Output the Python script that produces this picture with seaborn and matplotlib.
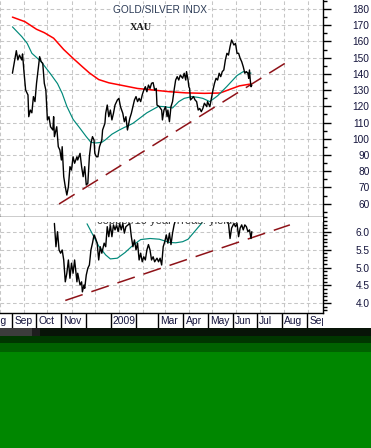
import pandas as pd
import matplotlib
matplotlib.use("Agg")
import matplotlib.pyplot as plt
import matplotlib.transforms as mtransforms
from matplotlib.patches import Rectangle
from matplotlib.ticker import MultipleLocator, FormatStrFormatter
import seaborn as sns

# all x values are days counted from this date
start = pd.Timestamp("2008-08-17")

# XAU close (upper panel)
xau_day = [0, 5, 7, 9, 12, 13, 15, 17, 20, 21, 23, 25, 27, 29, 31, 33, 35, 37, 39, 41,
           43, 45, 47, 49, 52, 53, 54, 57, 59, 61, 63, 64, 66, 68, 70, 72, 74, 76, 78, 80,
           83, 84, 87, 89, 91, 93, 95, 97, 99, 101, 103, 105, 106, 108, 110, 112, 115, 116, 119, 120,
           122, 124, 126, 128, 130, 132, 135, 137, 139, 142, 144, 146, 148, 151,
           153, 157, 159, 161, 163, 165, 167, 169, 171, 173, 175, 177, 179, 181, 183, 185, 186, 189, 192, 193,
           195, 197, 199, 200, 202, 204, 206, 208, 210, 212, 214, 216, 219, 221, 223, 224, 226, 227, 228, 229,
           231, 233, 235, 237, 239, 241, 243, 245, 247, 250, 251, 254, 256, 258, 260, 262, 264, 266, 268, 270,
           272, 274, 276, 278, 280, 282, 285, 287, 289, 291, 293, 295, 297, 299, 301, 303, 304, 305, 306, 307,
           308]
xau = [140.4, 154.3, 148.6, 151.6, 148.6, 152.3, 140.4, 130, 127, 113.6, 117.7, 116, 126, 122.9, 134.2, 142.4, 150.6, 147.5, 146.5, 134.2,
       130, 111.6, 113.6, 107.4, 105.4, 113.6, 101.3, 107.4, 95.1, 93.1, 86.9, 95.1, 76.6, 70.4, 65.3, 70.4, 82.8, 80.7, 88.9, 84.9,
       88.9, 86.9, 91, 82.8, 76.6, 82.8, 71.5, 72.5, 88.9, 97.2, 101.3, 99.2, 91, 88.9, 88.9, 95.1, 99.2, 105.4, 109.5, 115.7,
       120.8, 113.6, 117.7, 111.6, 115.7, 120.8, 123.9, 124.9, 119.8, 115.7, 110.5, 113.6, 105.4, 112.6,
       115.7, 123.9, 126, 122.9, 124.9, 122.9, 127, 130, 132.1, 129, 133.1, 131, 134.2, 134.6, 130, 131, 120.8, 119.8, 117.7, 111.6,
       117.7, 119.8, 113.6, 117.7, 110.5, 119.8, 122.9, 130, 136.2, 138.3, 136.2, 139.3, 137.3, 140.4, 136.2, 141.4, 136.2, 132.1, 131, 123.9,
       124.9, 126, 123.9, 122.9, 117.7, 118.7, 116.7, 118.7, 121.9, 119.8, 122.9, 119.8, 124.9, 130, 134.2, 137.3, 136.2, 140.4, 138.3, 141.4,
       142.4, 148.6, 152.7, 151.6, 156.8, 160.9, 157.8, 158.8, 152.7, 152.7, 149.6, 147.5, 144.4, 140.4, 141.4, 140.4, 137.3, 142.4, 136.2, 132.1,
       133]

# short moving average (teal) and long moving average (red)
ma_short_day = [0, 12, 19, 25, 37, 49, 58, 64, 70, 78, 87, 95, 101, 107, 115, 120, 128, 136, 144, 148,
                155, 173, 188, 195, 206, 214, 221, 231, 239, 245, 254, 264, 276, 289, 297, 305, 307]
ma_short = [169, 163, 158.8, 152.7, 147.5, 140, 134, 128, 120, 112, 106.4, 101.3, 97.8, 97.4, 97.8, 99.5, 102.8, 105, 107, 107.8,
            109.5, 116, 120, 119.8, 119, 122.9, 124.9, 126, 125.5, 124.9, 122.9, 126.5, 132.3, 139, 141.4, 140.4, 140.5]
ma_long_day = [0, 16, 31, 41, 53, 66, 78, 90, 99, 111, 124, 140, 161, 182, 202, 223, 247, 267, 280, 292, 307]
ma_long = [175, 172.2, 167.5, 165.4, 162, 155, 149.6, 144.4, 140.6, 136.5, 134.5, 133, 131, 130, 129, 128.3, 128, 128.2, 130.5, 132.6, 133.8]

trend_day = [60, 357]
trend = [59.8, 148.4]

# copper / 10 year treasury yields (lower panel), two visible stretches
ratio_day_a = [54, 56, 58, 60, 62, 64, 66, 68, 70, 72, 74, 76, 78, 80, 83, 84, 87, 89, 90, 92,
               93, 95, 97, 99, 101, 103, 105, 107, 109, 111, 113, 115, 118, 120, 122, 124, 126, 128, 130, 132,
               134, 136, 138, 140, 142, 144, 146, 151, 153, 155, 157, 159, 161, 163, 165, 167, 169, 171, 173, 175,
               177, 179, 181, 183, 186, 188, 190, 192, 194, 196, 198, 200, 202, 204, 206, 208, 210]
ratio_a = [6.23, 5.58, 6.0, 5.49, 5.4, 5.49, 5.21, 4.6, 4.84, 5.21, 4.7, 5.12, 4.84, 5.21, 4.6, 4.84, 4.51, 4.6, 4.32, 4.51,
           4.42, 4.79, 4.98, 5.07, 5.49, 5.68, 5.91, 5.81, 5.68, 5.21, 5.58, 5.4, 5.68, 5.58, 6.14, 5.86, 6.19, 5.86, 6.19, 6.05,
           6.19, 6.0, 6.23, 6.05, 6.23, 5.96, 6.14, 6.23, 5.86, 5.58, 5.77, 5.49, 5.68, 5.21, 5.4, 5.16, 5.3, 5.21, 5.49, 5.64,
           5.49, 5.21, 5.3, 5.16, 5.26, 5.16, 5.26, 5.07, 5.58, 5.72, 5.91, 5.68, 5.96, 5.64, 5.96, 6.19, 6.33]
ratio_day_b = [276, 278, 280, 282, 285, 287, 289, 291, 293, 295, 297, 299, 301, 303, 305, 307, 308]
ratio_b = [6.3, 6.23, 5.81, 6.1, 6.23, 6.14, 6.23, 5.86, 6.1, 6.19, 6.05, 6.19, 6.14, 6.0, 6.05, 5.81, 6.0]
ratio_ma_day = [96, 104, 111, 120, 126, 135, 145, 155, 165, 177, 189, 202, 210, 219, 226, 235, 244]
ratio_ma = [6.22, 5.89, 5.6, 5.35, 5.24, 5.26, 5.42, 5.62, 5.78, 5.81, 5.79, 5.7, 5.69, 5.72, 5.79, 6.02, 6.25]
ratio_trend_day = [68, 357]
ratio_trend = [4.08, 6.19]

month_labels = ["Aug", "Sep", "Oct", "Nov", "", "2009", "", "Mar", "Apr", "May", "Jun", "Jul", "Aug", "Sep"]


def to_date(days):
    return start + pd.to_timedelta(days, unit="D")


sns.set_style("white")
plt.rcParams["font.family"] = ["Liberation Sans", "DejaVu Sans"]

W, H = 371, 448
fig = plt.figure(figsize=(W / 100, H / 100), dpi=100)


def frac(x0, y0, x1, y1):
    return [x0 / W, 1 - y1 / H, (x1 - x0) / W, (y1 - y0) / H]


ax1 = fig.add_axes(frac(0, 0, 323, 217))
ax2 = fig.add_axes(frac(0, 217, 323, 313))
axs = fig.add_axes(frac(0, 313, 323, 328))

xmin, xmax = to_date(0), to_date(399.6)
months = pd.date_range("2008-08-01", periods=len(month_labels), freq="MS")

teal = "#00897a"
trend_color = "#8e1218"
label_color = "#14143c"

# upper panel
sns.lineplot(x=to_date(ma_long_day), y=ma_long, ax=ax1, color="#ff0000", linewidth=1.1, zorder=3)
sns.lineplot(x=to_date(ma_short_day), y=ma_short, ax=ax1, color=teal, linewidth=0.85, zorder=3)
sns.lineplot(x=to_date(xau_day), y=xau, ax=ax1, color="black", linewidth=1.0, zorder=4)
sns.lineplot(x=to_date(trend_day), y=trend, ax=ax1, color=trend_color, linewidth=1.1,
             linestyle=(0, (12, 6)), zorder=2)
ax1.set_ylim(51.76, 185.55)
ax1.yaxis.set_major_locator(MultipleLocator(10))
ax1.yaxis.set_minor_locator(MultipleLocator(5))
ax1.text(0.495, 0.954, "GOLD/SILVER INDX", transform=ax1.transAxes, ha="center", va="center",
         fontsize=7.3, color="#2b3a55", zorder=6,
         bbox=dict(facecolor="white", edgecolor="none", pad=0.5))
ax1.text(0.437, 0.871, "XAU", transform=ax1.transAxes, ha="center", va="center",
         fontsize=7.4, fontweight="bold", family="Liberation Serif", color="#1a1a1a", zorder=6)

# lower panel
ratio_df = pd.DataFrame({
    "date": list(to_date(ratio_day_a)) + list(to_date(ratio_day_b)),
    "value": ratio_a + ratio_b,
    "seg": [0] * len(ratio_a) + [1] * len(ratio_b),
})
sns.lineplot(data=ratio_df, x="date", y="value", units="seg", estimator=None, ax=ax2,
             color="black", linewidth=1.0, zorder=4)
sns.lineplot(x=to_date(ratio_ma_day), y=ratio_ma, ax=ax2, color=teal, linewidth=0.85, zorder=3)
sns.lineplot(x=to_date(ratio_trend_day), y=ratio_trend, ax=ax2, color=trend_color, linewidth=1.1,
             linestyle=(0, (12, 6)), zorder=2)
ax2.set_ylim(3.73, 6.41)
ax2.yaxis.set_major_locator(MultipleLocator(0.5))
ax2.yaxis.set_minor_locator(MultipleLocator(0.1))
ax2.yaxis.set_major_formatter(FormatStrFormatter("%.1f"))
# the series label is mostly hidden behind the white band at the top of the panel
ax2.text(to_date(199), 6.225, "copper/10 year Treas. yields", ha="center", va="baseline",
         fontsize=8.0, color="#333333", zorder=5, clip_on=True)
ax2.axhspan(6.262, 6.45, color="white", zorder=6, linewidth=0)

for ax in (ax1, ax2):
    ax.set_xlim(xmin, xmax)
    ax.set_xticks(months)
    ax.set_xticklabels([])
    ax.tick_params(axis="x", length=0)
    ax.set_xlabel("")
    ax.set_ylabel("")
    ax.yaxis.tick_right()
    ax.tick_params(axis="y", which="major", direction="out", length=6, width=1, color="black",
                   labelsize=7.3, labelcolor=label_color, pad=27.4)
    ax.tick_params(axis="y", which="minor", direction="out", length=3, width=1, color="black")
    for lab in ax.get_yticklabels():
        lab.set_horizontalalignment("right")
    ax.grid(True, which="major", color="#c6c6c6", linestyle=(0, (3.5, 2.5)), linewidth=0.75)
    ax.set_axisbelow(True)
    for side in ("top", "left"):
        ax.spines[side].set_visible(False)
    for side in ("right", "bottom"):
        ax.spines[side].set_visible(True)
        ax.spines[side].set_color("black")
        ax.spines[side].set_linewidth(1.0)

# month strip
axs.set_xlim(xmin, xmax)
axs.set_ylim(0, 1)
axs.axis("off")
axs.vlines(months, 0, 1, color="black", linewidth=1.0)
shift = mtransforms.offset_copy(axs.transData, fig=fig, x=2, y=0, units="dots")
for m, lab in zip(months, month_labels):
    axs.text(m, 0.45, lab, transform=shift, ha="left", va="center", fontsize=7.4,
             color=label_color, clip_on=True)

# green band under the chart
def band(x0, y0, x1, y1, color):
    r = frac(x0, y0, x1, y1)
    fig.add_artist(Rectangle((r[0], r[1]), r[2], r[3], transform=fig.transFigure,
                             facecolor=color, edgecolor="none"))


band(0, 328, W, 336, "#081408")
band(0, 328, 32, 336, "#3c3c3c")
band(32, 328, 40, 336, "#1e1e1e")
band(0, 336, W, 343, "#003600")
band(0, 343, W, 352, "#006200")
band(0, 352, W, H, "#008700")

fig.savefig("out.png", dpi=100)
